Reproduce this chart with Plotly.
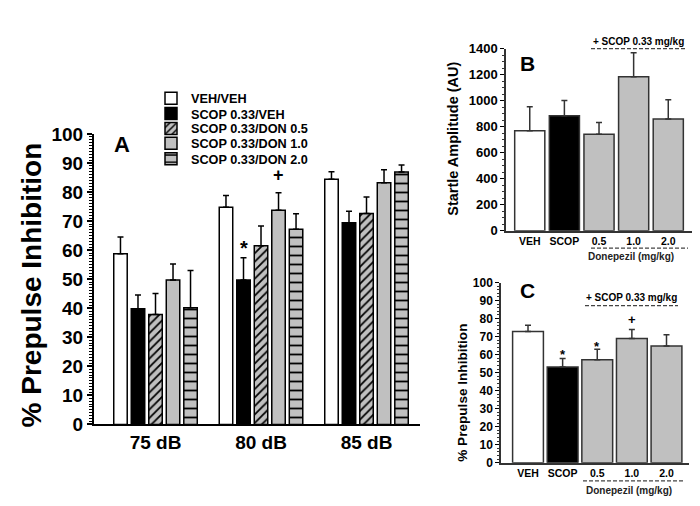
import plotly.graph_objects as go

W, H = 700, 506
FONT = "Arial, Liberation Sans, sans-serif"
GRAY = "#c0c0c0"

# panel A: % PPI by prepulse intensity
intensities = ["75 dB", "80 dB", "85 dB"]
groups = ["VEH/VEH", "SCOP 0.33/VEH", "SCOP 0.33/DON 0.5", "SCOP 0.33/DON 1.0", "SCOP 0.33/DON 2.0"]
ppi_veh = [58.8, 74.8, 84.4]
ppi_scop = [39.8, 49.7, 69.4]
ppi_don05 = [37.8, 61.5, 72.6]
ppi_don10 = [49.7, 73.7, 83.2]
ppi_don20 = [40.2, 67.2, 86.9]
sem_veh = [5.7, 4.0, 2.6]
sem_scop = [4.8, 7.7, 4.0]
sem_don05 = [7.3, 6.8, 5.7]
sem_don10 = [5.5, 6.1, 4.5]
sem_don20 = [12.8, 5.3, 2.4]

# panels B and C: treatment groups
treatments = ["VEH", "SCOP", "0.5", "1.0", "2.0"]
startle = [769, 884, 742, 1184, 860]
startle_sem = [184, 118, 91, 184, 147]
ppi_mean = [72.9, 53.1, 57.2, 69.0, 64.8]
ppi_sem = [3.4, 4.8, 5.8, 5.0, 6.2]


def px(x):
    return x / W


def py(y):
    return 1 - y / H


def bold(size, color="black"):
    return dict(family=FONT, size=size, color=color, weight="bold")


styles = [
    dict(color="white"),
    dict(color="black"),
    dict(color=GRAY, pattern=dict(shape="/", fillmode="replace", bgcolor=GRAY,
                                  fgcolor="black", size=6, solidity=0.3)),
    dict(color=GRAY),
    dict(color=GRAY, pattern=dict(shape="-", fillmode="replace", bgcolor=GRAY,
                                  fgcolor="black", size=9, solidity=0.2)),
]
series = [ppi_veh, ppi_scop, ppi_don05, ppi_don10, ppi_don20]
sems = [sem_veh, sem_scop, sem_don05, sem_don10, sem_don20]
legend_rows = [84, 100, 115.5, 131, 147]

fig = go.Figure()

for i, (name, vals, err, st) in enumerate(zip(groups, series, sems, styles)):
    fig.add_trace(go.Bar(
        x=intensities, y=vals, name=name,
        marker=dict(line=dict(color="black", width=1.5), **st),
        error_y=dict(type="data", symmetric=False, array=err, arrayminus=[0] * len(err),
                     color="black", thickness=1.5, width=3),
        legend="legend" if i == 0 else f"legend{i + 1}",
        xaxis="x", yaxis="y",
    ))

bc_colors = ["white", "black", GRAY, GRAY, GRAY]
fig.add_trace(go.Bar(
    x=treatments, y=startle, width=0.87, showlegend=False,
    marker=dict(color=bc_colors, line=dict(color="#333333", width=1.5)),
    error_y=dict(type="data", symmetric=False, array=startle_sem, arrayminus=[0] * 5,
                 color="#333333", thickness=1.5, width=3),
    xaxis="x2", yaxis="y2",
))
fig.add_trace(go.Bar(
    x=treatments, y=ppi_mean, width=0.89, showlegend=False,
    marker=dict(color=bc_colors, line=dict(color="#333333", width=1.5)),
    error_y=dict(type="data", symmetric=False, array=ppi_sem, arrayminus=[0] * 5,
                 color="#333333", thickness=1.5, width=3),
    xaxis="x3", yaxis="y3",
))

xcommon = dict(type="category", showline=True, linecolor="black", ticks="",
               showgrid=False, zeroline=False)
ycommon = dict(showline=True, linecolor="black", ticks="outside", tickcolor="black",
               showgrid=False, zeroline=False)

layout = dict(
    width=W, height=H, margin=dict(l=0, r=0, t=0, b=0),
    paper_bgcolor="white", plot_bgcolor="white",
    barmode="group", bargap=0.17, bargroupgap=0.23,
    font=dict(family=FONT),
    xaxis=dict(xcommon, domain=[px(86), px(412)], range=[-0.583, 2.507], anchor="y",
               linewidth=2, tickfont=bold(19)),
    yaxis=dict(ycommon, domain=[py(424), py(121)], range=[0, 100], dtick=10, anchor="x",
               linewidth=2, ticklen=5, tickwidth=1.5, tickfont=bold(19),
               minor=dict(dtick=1, ticks="outside", ticklen=3, tickwidth=1, tickcolor="black")),
    xaxis2=dict(xcommon, domain=[px(498), px(685)], range=[-0.686, 4.714], anchor="y2",
                linewidth=1.5, linecolor="#333333", tickfont=bold(10.5)),
    yaxis2=dict(ycommon, domain=[py(222), py(32)], range=[0, 1400], dtick=200, anchor="x2",
                linewidth=1.5, linecolor="#333333", ticklen=4, tickwidth=1, tickfont=bold(13),
                minor=dict(dtick=50, ticks="outside", ticklen=2, tickwidth=1, tickcolor="#333333")),
    xaxis3=dict(xcommon, domain=[px(493), px(681)], range=[-0.78, 4.65], anchor="y3",
                linewidth=1.5, linecolor="#333333", tickfont=bold(10.5)),
    yaxis3=dict(ycommon, domain=[py(464), py(276)], range=[0, 100], dtick=10, anchor="x3",
                linewidth=1.5, linecolor="#333333", ticklen=4, tickwidth=1, tickfont=bold(12),
                minor=dict(dtick=2, ticks="outside", ticklen=2, tickwidth=1, tickcolor="#333333")),
)

for i, row in enumerate(legend_rows):
    key = "legend" if i == 0 else f"legend{i + 1}"
    layout[key] = dict(x=px(143), xanchor="left", y=py(row), yanchor="middle",
                       bgcolor="rgba(0,0,0,0)", borderwidth=0, itemwidth=30,
                       font=bold(12.7))

fig.update_layout(**layout)

ann = [
    dict(text="A", x=px(114), y=py(132), font=bold(22)),
    dict(text="B", x=px(519), y=py(47.5), font=bold(21)),
    dict(text="C", x=px(519), y=py(284.5), font=bold(21)),
    dict(text="% Prepulse Inhibition", x=px(23), y=py(279), textangle=-90, font=bold(28)),
    dict(text="Startle Amplitude (AU)", x=px(445), y=py(126), textangle=-90, font=bold(14.5)),
    dict(text="% Prepulse Inhibition", x=px(455), y=py(391), textangle=-90, font=bold(13.6)),
    dict(text="+ SCOP 0.33 mg/kg", x=px(630), y=py(25), font=bold(10)),
    dict(text="+ SCOP 0.33 mg/kg", x=px(623), y=py(292), font=bold(10)),
    dict(text="Donepezil (mg/kg)", x=px(622.5), y=py(249), font=bold(10, "#222222")),
    dict(text="Donepezil (mg/kg)", x=px(620.5), y=py(493), font=bold(10, "#222222")),
]
for a in ann:
    fig.add_annotation(xref="paper", yref="paper", showarrow=False,
                       xanchor="center", yanchor="middle", **a)

# significance marks
fig.add_annotation(x="80 dB", y=60.2, xref="x", yref="y", text="*", xshift=-17.5, yshift=2,
                   showarrow=False, font=bold(20))
fig.add_annotation(x="80 dB", y=83.8, xref="x", yref="y", text="+", xshift=17.5, yshift=6,
                   showarrow=False, font=bold(18))
for t, yv, s in [("SCOP", 61.4, "*"), ("0.5", 65.8, "*"), ("1.0", 77.3, "+")]:
    fig.add_annotation(x=treatments.index(t), y=yv, xref="x3", yref="y3", text=s,
                       showarrow=False, yshift=-2 if s == "*" else 4, font=bold(13))

dash = dict(color="#444444", width=1.3, dash="4px,2px")
for x0, x1, yy in [(583, 678, 32), (583, 680, 240), (577, 670, 300), (575, 677, 483)]:
    fig.add_shape(type="line", xref="paper", yref="paper",
                  x0=px(x0), x1=px(x1), y0=py(yy), y1=py(yy), line=dash)

fig.write_html("out.html")
